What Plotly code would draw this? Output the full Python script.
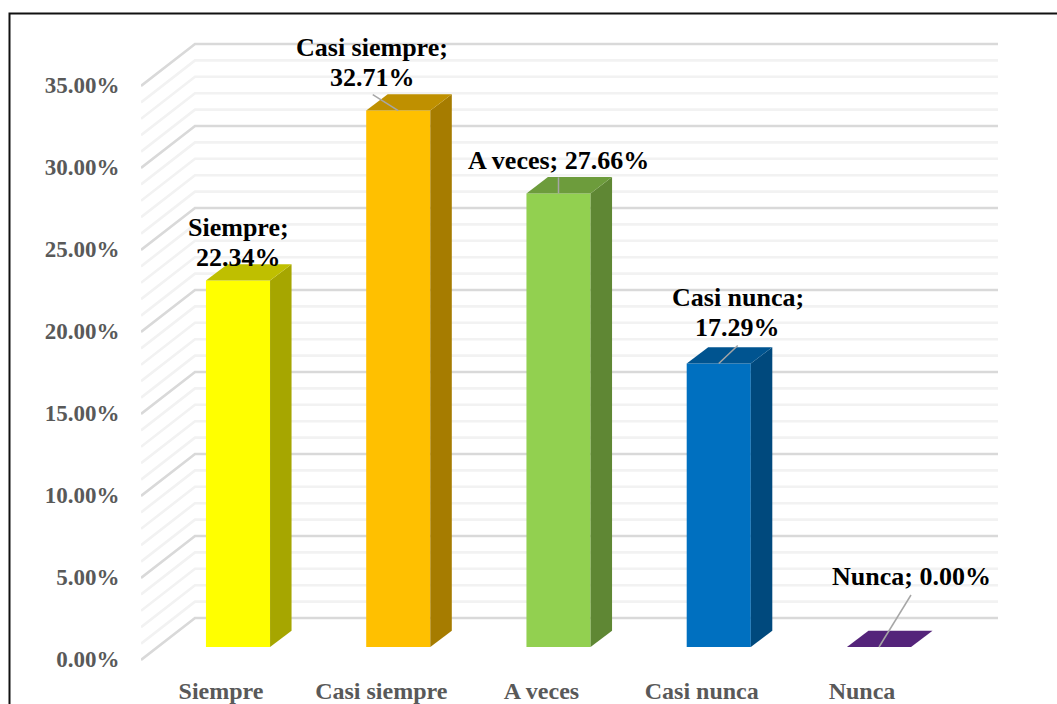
import plotly.graph_objects as go

# ---- data ----
categories = ["Siempre", "Casi siempre", "A veces", "Casi nunca", "Nunca"]
values = [22.34, 32.71, 27.66, 17.29, 0.00]
major_ticks = [0, 5, 10, 15, 20, 25, 30, 35]
minor_ticks = [v for v in range(0, 36) if v % 5]
tick_labels = ["0.00%", "5.00%", "10.00%", "15.00%", "20.00%", "25.00%", "30.00%", "35.00%"]
data_labels = [["Siempre;", "22.34%"], ["Casi siempre;", "32.71%"], ["A veces; 27.66%"],
               ["Casi nunca;", "17.29%"], ["Nunca; 0.00%"]]

# ---- colours ----
front_colors = ["#FFFF00", "#FFC000", "#92D050", "#0070C0", "#7030A0"]
top_colors = ["#BFBF00", "#BF9000", "#6D9C3C", "#005490", "#54247A"]
side_colors = ["#A6A600", "#A67C00", "#5F8734", "#00497D", "#49206A"]

# ---- pixel geometry of the pseudo-3D projection ----
W, H = 1057, 704
L, R, T, B = 141, 57, 30, 36
PX_X, PX_Y = 160.25, 16.4      # pixels per category / per percentage point
X0_PX, Y0_PX = 238, 647        # where category 0 / value 0 lie on the bar front plane
BAR_W = 0.4
DEPTH_X, DEPTH_Y = 21.5 / PX_X, 16.3 / PX_Y          # bar depth
WALL_FX, WALL_FY = 141, 660
WALL_BX, WALL_BY = 195, 618
WALL_RX = 998
LINE_GAP = 30


def xd(px):
    return (px - X0_PX) / PX_X


def yd(px):
    return (Y0_PX - px) / PX_Y


fig = go.Figure()

# side and top faces of each bar
for i, v in enumerate(values):
    xl, xr = i - BAR_W / 2, i + BAR_W / 2
    if v > 0:
        fig.add_trace(go.Scatter(
            x=[xr, xr + DEPTH_X, xr + DEPTH_X, xr, xr],
            y=[0, DEPTH_Y, v + DEPTH_Y, v, 0],
            mode="lines", fill="toself", fillcolor=side_colors[i],
            line=dict(width=0), hoverinfo="skip", showlegend=False))
    fig.add_trace(go.Scatter(
        x=[xl, xr, xr + DEPTH_X, xl + DEPTH_X, xl],
        y=[v, v, v + DEPTH_Y, v + DEPTH_Y, v],
        mode="lines", fill="toself", fillcolor=top_colors[i],
        line=dict(width=0), hoverinfo="skip", showlegend=False))

# front faces
fig.add_trace(go.Bar(x=list(range(len(values))), y=values, width=BAR_W,
                     marker=dict(color=front_colors, line=dict(width=0)),
                     showlegend=False))

# leader lines
leader_dx = [0, -25.5, 0, 19, 32]
leader_dy = [0, 16, 16, 18, 52]
for i, v in enumerate(values):
    if leader_dx[i] or leader_dy[i]:
        fig.add_trace(go.Scatter(
            x=[i, i + leader_dx[i] / PX_X], y=[v, v + leader_dy[i] / PX_Y],
            mode="lines", line=dict(color="#A6A6A6", width=1.5),
            hoverinfo="skip", showlegend=False))

# walls / floor grid as below-trace shapes
shapes = []
for group, color, width in ((minor_ticks, "#F2F2F2", 2.6), (major_ticks, "#D9D9D9", 2.6)):
    for v in group:
        shapes.append(dict(
            type="path", layer="below", xref="x", yref="y",
            path=(f"M {xd(WALL_FX)} {v + yd(WALL_FY)} "
                  f"L {xd(WALL_BX)} {v + yd(WALL_BY)} "
                  f"L {xd(WALL_RX)} {v + yd(WALL_BY)}"),
            line=dict(color=color, width=width)))

# outer frame (left + top edges)
pw, ph = W - L - R, H - T - B
fx = lambda px: (px - L) / pw
fy = lambda py: 1 - (py - T) / ph
shapes.append(dict(type="path", xref="paper", yref="paper",
                   path=f"M {fx(9.5)} {fy(704)} L {fx(9.5)} {fy(13.5)} L {fx(1057)} {fy(13.5)}",
                   line=dict(color="#111111", width=2)))

# data labels (each line is placed on its own so the line gap matches)
label_shift_x = [0, -26, 0, 19, 32]
label_shift_y = [38, 48, 33, 51, 71]
annotations = []
for i, v in enumerate(values):
    lines = data_labels[i]
    for k, line in enumerate(lines):
        annotations.append(dict(
            x=i, y=v, xref="x", yref="y", text=f"<b>{line}</b>", showarrow=False,
            xshift=label_shift_x[i],
            yshift=label_shift_y[i] + (len(lines) - 1 - 2 * k) * LINE_GAP / 2,
            font=dict(family="Liberation Serif", size=26, color="#000000")))

fig.update_layout(
    width=W, height=H,
    margin=dict(l=L, r=R, t=T, b=B, pad=0),
    paper_bgcolor="white", plot_bgcolor="white",
    shapes=shapes, annotations=annotations, showlegend=False,
    xaxis=dict(range=[xd(L), xd(W - R)], tickmode="array", automargin=False,
               tickvals=[i - 17 / PX_X for i in range(len(categories))],
               ticktext=[f"<b>{c}</b>" for c in categories],
               showgrid=False, zeroline=False, showline=False,
               ticks="outside", ticklen=1, tickcolor="rgba(0,0,0,0)",
               tickfont=dict(family="Liberation Serif", size=24, color="#595959")),
    yaxis=dict(range=[yd(H - B), yd(T)], tickmode="array", automargin=False,
               tickvals=[v - 0.73 for v in major_ticks],
               ticktext=[f"<b>{t}</b>" for t in tick_labels],
               showgrid=False, zeroline=False, showline=False,
               ticks="outside", ticklen=16, tickcolor="rgba(0,0,0,0)",
               tickfont=dict(family="Liberation Serif", size=23, color="#595959")),
)

fig.write_html("out.html", post_script="document.body.style.margin='0';",
               config={"displayModeBar": False})
